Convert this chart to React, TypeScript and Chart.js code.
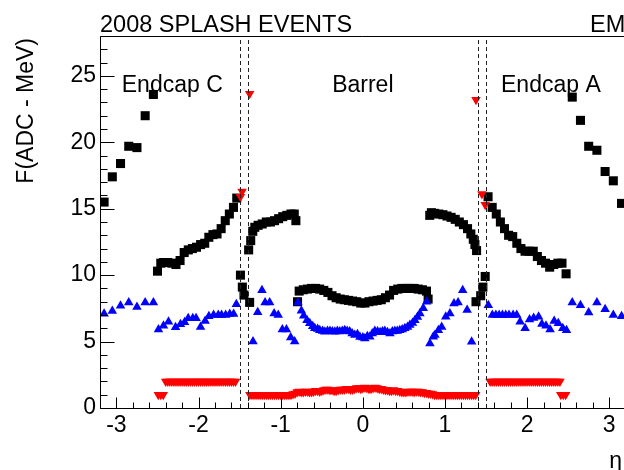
import React, { useEffect, useRef } from "react";
import { Chart, registerables } from "chart.js";

Chart.register(...registerables);

const FONT = '"Liberation Sans", Arial, Helvetica, sans-serif';

// ---- data (eta, F) ----
const blackEta = [
  -3.15, -3.05, -2.95, -2.85, -2.75, -2.65, -2.55,
  -2.5, -2.46, -2.425, -2.375, -2.325, -2.275, -2.225, -2.175, -2.125, -2.075, -2.025,
  -1.975, -1.925, -1.875, -1.825, -1.775, -1.725, -1.675, -1.625, -1.575, -1.535,
  -1.49, -1.467, -1.447, -1.378,
  -1.39, -1.365, -1.34, -1.315, -1.275, -1.225, -1.175, -1.125, -1.075, -1.025, -0.975, -0.925, -0.875, -0.835, -0.815,
  -0.795, -0.775, -0.725, -0.675, -0.625, -0.575, -0.525, -0.475, -0.425, -0.375, -0.325, -0.275, -0.225, -0.175, -0.125, -0.075, -0.025,
  0.025, 0.075, 0.125, 0.175, 0.225, 0.275, 0.325, 0.375, 0.425, 0.475, 0.525, 0.575, 0.625, 0.675, 0.725, 0.775, 0.795,
  0.815, 0.835, 0.875, 0.925, 0.975, 1.025, 1.075, 1.125, 1.175, 1.225, 1.275, 1.315, 1.345, 1.365, 1.385,
  1.378, 1.435, 1.462, 1.49,
  1.525, 1.575, 1.625, 1.675, 1.725, 1.775, 1.825, 1.875, 1.925, 1.975, 2.025, 2.075, 2.125, 2.175, 2.225, 2.275, 2.325, 2.375, 2.425, 2.475,
  2.55, 2.65, 2.75, 2.85, 2.95, 3.05, 3.15,
];
const blackVal = [
  15.5, 17.4, 18.4, 19.7, 19.6, 22.0, 23.6,
  10.3, 10.9, 10.95, 10.95, 10.9, 10.8, 11.1, 11.7, 11.9, 12.0, 12.1,
  12.3, 12.4, 12.85, 13.05, 13.1, 13.5, 14.1, 14.6, 15.1, 15.8,
  10.0, 9.1, 8.5, 7.95,
  11.9, 12.6, 13.3, 13.6, 13.75, 13.85, 14.0, 14.0, 14.1, 14.25, 14.4, 14.5, 14.6, 14.6, 14.1,
  8.0, 8.8, 8.9, 8.95, 9.0, 9.0, 8.95, 8.85, 8.7, 8.45, 8.3, 8.2, 8.15, 8.1, 8.05, 8.0, 7.9,
  7.9, 8.0, 8.05, 8.1, 8.15, 8.3, 8.5, 8.85, 8.95, 9.0, 9.0, 9.0, 9.0, 8.95, 8.9, 8.8, 8.2,
  14.5, 14.7, 14.65, 14.6, 14.55, 14.45, 14.35, 14.2, 14.0, 13.8, 13.5, 13.1, 12.7, 12.3, 11.85,
  8.0, 8.45, 9.1, 9.9,
  15.9, 15.1, 14.6, 14.0, 13.5, 13.0, 12.9, 12.4, 12.0, 11.8, 11.8, 11.8, 11.4, 11.1, 10.9, 10.6, 10.8, 10.9, 10.9, 10.1,
  23.4, 21.65, 19.7, 19.4, 17.8, 17.1, 15.4,
];

const blueEta = [
  -3.15, -3.05, -2.95, -2.85, -2.75, -2.65, -2.55,
  -2.488, -2.427, -2.366, -2.28, -2.22, -2.17, -2.126, -2.07, -2.03, -1.976, -1.92, -1.874, -1.817, -1.76, -1.72, -1.67, -1.62, -1.573, -1.54,
  -1.337, -1.28, -1.228, -1.19, -1.134, -1.08, -1.03, -0.98, -0.93, -0.878, -0.83,
  -0.79, -0.748, -0.72, -0.68, -0.646, -0.61, -0.585, -0.55, -0.524, -0.49, -0.463, -0.43, -0.4, -0.37, -0.34, -0.31, -0.28, -0.25, -0.22, -0.19, -0.16, -0.13, -0.098, -0.065, -0.035,
  0.0, 0.024, 0.055, 0.085, 0.115, 0.146, 0.18, 0.21, 0.24, 0.268, 0.3, 0.33, 0.36, 0.39, 0.42, 0.45, 0.48, 0.512, 0.545, 0.573, 0.605, 0.634, 0.665, 0.695, 0.736, 0.777,
  0.817, 0.858, 0.878, 0.92, 0.96, 1.01, 1.06, 1.11, 1.16, 1.216, 1.27, 1.325,
  1.528, 1.577, 1.62, 1.66, 1.7, 1.74, 1.78, 1.83, 1.874, 1.915, 1.976, 2.03, 2.08, 2.14, 2.18, 2.23, 2.28, 2.33, 2.38, 2.435, 2.48,
  2.55, 2.65, 2.75, 2.85, 2.95, 3.05, 3.15,
];
const blueVal = [
  7.1, 7.3, 7.7, 7.95, 7.6, 7.95, 7.95,
  5.9, 6.2, 6.5, 6.07, 6.3, 6.45, 6.75, 6.75, 6.75, 6.1, 6.55, 6.9, 7.0, 7.0, 7.0, 7.0, 7.07, 7.07, 7.8,
  5.0, 7.2, 8.87, 7.95, 7.94, 7.12, 7.0, 5.9, 5.9, 5.3, 5.0,
  7.94, 7.32, 6.94, 6.6, 6.37, 6.15, 6.0, 5.95, 5.86, 5.8, 5.74, 5.8, 5.8, 5.75, 5.74, 5.8, 5.75, 5.8, 5.86, 5.8, 5.75, 5.6, 5.49, 5.55, 5.35,
  5.3, 5.24, 5.4, 5.36, 5.6, 5.79, 5.75, 5.7, 5.75, 5.79, 5.7, 5.6, 5.75, 5.8, 5.8, 5.86, 5.9, 6.0, 6.1, 6.24, 6.4, 6.6, 6.85, 7.12, 7.5, 8.0,
  4.86, 5.36, 5.5, 5.86, 6.1, 6.87, 7.12, 7.87, 7.94, 8.87, 7.37, 4.98,
  7.74, 7.0, 7.0, 7.0, 7.0, 7.0, 7.0, 7.0, 7.0, 6.5, 6.0, 6.67, 6.77, 6.87, 6.32, 6.2, 5.9, 6.54, 6.37, 6.0, 5.86,
  7.94, 7.74, 7.19, 7.94, 7.44, 7.0, 6.9,
];

// isolated red points near the cracks and endcap edges
const redOutlierEta = [-1.378, -1.47, -1.49, 1.378, 1.45, 1.49, -2.49, -2.46, -2.43, 2.41, 2.44, 2.47];
const redOutlierVal = [23.65, 16.3, 15.9, 23.2, 16.1, 15.3, 1.0, 1.0, 1.0, 1.0, 1.0, 1.0];

// endcap inner-wheel red band (Endcap C then Endcap A)
const redEndcapEta = [
  -2.4, -2.375, -2.35, -2.325, -2.3, -2.275, -2.25, -2.225, -2.2, -2.175, -2.15, -2.125, -2.1, -2.075, -2.05, -2.025,
  -2.0, -1.975, -1.95, -1.925, -1.9, -1.875, -1.85, -1.825, -1.8, -1.775, -1.75, -1.725, -1.7, -1.675, -1.65, -1.625, -1.6, -1.575, -1.55,
  1.55, 1.575, 1.6, 1.625, 1.65, 1.675, 1.7, 1.725, 1.75, 1.775, 1.8, 1.825, 1.85, 1.875, 1.9, 1.925,
  1.95, 1.975, 2.0, 2.025, 2.05, 2.075, 2.1, 2.125, 2.15, 2.175, 2.2, 2.225, 2.25, 2.275, 2.3, 2.325, 2.35, 2.375, 2.4,
];
const redEndcapVal = [
  2.0, 2.0, 2.0, 2.0, 2.0, 2.0, 2.0, 2.0, 2.0, 2.0, 2.0, 2.0, 2.0, 2.0, 2.0, 2.0,
  2.0, 2.0, 2.0, 2.0, 2.0, 2.0, 2.0, 2.0, 2.0, 2.0, 2.0, 2.0, 2.0, 2.0, 2.0, 2.0, 2.0, 2.0, 2.0,
  2.0, 2.0, 2.0, 2.0, 2.0, 2.0, 2.0, 2.0, 2.0, 2.0, 2.0, 2.0, 2.0, 2.0, 2.0, 2.0,
  2.0, 2.0, 2.0, 2.0, 2.0, 2.0, 2.0, 2.0, 2.0, 2.0, 2.0, 2.0, 2.0, 2.0, 2.0, 2.0, 2.0, 2.0, 2.0,
];

// barrel red band
const redBarrelEta = [
  -1.375, -1.35, -1.325, -1.3, -1.275, -1.25, -1.225, -1.2, -1.175, -1.15, -1.125, -1.1, -1.075, -1.05, -1.025, -1.0,
  -0.975, -0.95, -0.925, -0.9, -0.875, -0.85, -0.825, -0.8, -0.775, -0.75, -0.725, -0.7, -0.675, -0.65, -0.625, -0.6,
  -0.575, -0.55, -0.525, -0.5, -0.475, -0.45, -0.425, -0.4, -0.375, -0.35, -0.325, -0.3, -0.275, -0.25, -0.225, -0.2,
  -0.175, -0.15, -0.125, -0.1, -0.075, -0.05, -0.025, 0.0, 0.025, 0.05, 0.075, 0.1, 0.125, 0.15, 0.175, 0.2,
  0.225, 0.25, 0.275, 0.3, 0.325, 0.35, 0.375, 0.4, 0.425, 0.45, 0.475, 0.5, 0.525, 0.55, 0.575, 0.6,
  0.625, 0.65, 0.675, 0.7, 0.725, 0.75, 0.775, 0.8, 0.825, 0.85, 0.875, 0.9, 0.925, 0.95, 0.975, 1.0,
  1.025, 1.05, 1.075, 1.1, 1.125, 1.15, 1.175, 1.2, 1.225, 1.25, 1.275, 1.3, 1.325, 1.35, 1.375,
];
const redBarrelVal = [
  1.0, 1.0, 1.0, 1.0, 1.0, 1.0, 1.0, 1.0, 1.0, 1.0, 1.0, 1.0, 1.0, 1.0, 1.0, 1.0,
  1.0, 1.0, 1.0, 1.0, 1.0, 1.05, 1.1, 1.2, 1.25, 1.2, 1.2, 1.25, 1.25, 1.2, 1.2, 1.25,
  1.3, 1.3, 1.25, 1.3, 1.35, 1.4, 1.4, 1.35, 1.35, 1.3, 1.3, 1.35, 1.4, 1.4, 1.4, 1.45,
  1.45, 1.4, 1.4, 1.45, 1.5, 1.5, 1.45, 1.5, 1.55, 1.5, 1.45, 1.45, 1.5, 1.55, 1.5, 1.45,
  1.45, 1.4, 1.35, 1.35, 1.3, 1.3, 1.35, 1.3, 1.3, 1.25, 1.2, 1.2, 1.2, 1.25, 1.25, 1.25,
  1.2, 1.25, 1.25, 1.2, 1.2, 1.15, 1.15, 1.1, 1.1, 1.05, 1.0, 1.0, 1.0, 1.0, 1.0, 1.0,
  1.0, 1.0, 1.0, 1.0, 1.0, 1.0, 1.0, 1.0, 1.0, 1.0, 1.0, 1.0, 1.0, 1.0, 1.0,
];

// ---- axes / annotations ----
const X_MIN = -3.2;
const X_MAX = 3.18;
const Y_MIN = 0;
const Y_MAX = 28;
const crackLines = [-1.5, -1.4, 1.4, 1.5];
const regionLabels = ["Endcap C", "Barrel", "Endcap A"];
const regionCenters = [-2.32, 0, 2.29];
const titleText = "2008 SPLASH EVENTS";
const cornerText = "EM";
const yTitle = "F(ADC - MeV)";
const xTitle = "η";

const toPoints = (xs: number[], ys: number[]) => xs.map((x, i) => ({ x, y: ys[i] }));

const overlayPlugin = {
  id: "rootOverlay",
  afterDatasetsDraw(chart: any) {
    const { ctx, chartArea, scales } = chart;
    const { left, right, top, bottom } = chartArea;
    const xs = scales.x;
    const ys = scales.y;
    ctx.save();
    // dashed crack lines
    ctx.strokeStyle = "#222";
    ctx.lineWidth = 1;
    ctx.setLineDash([4, 3]);
    crackLines.forEach((v) => {
      const px = Math.round(xs.getPixelForValue(v)) + 0.5;
      ctx.beginPath();
      ctx.moveTo(px, bottom);
      ctx.lineTo(px, top);
      ctx.stroke();
    });
    ctx.setLineDash([]);
    // frame
    ctx.strokeStyle = "#000";
    const L = Math.round(left) + 0.5;
    const B = Math.round(bottom) + 0.5;
    const T = Math.round(top) + 0.5;
    ctx.beginPath();
    ctx.moveTo(L, T);
    ctx.lineTo(L, B);
    ctx.lineTo(right, B);
    ctx.moveTo(L, T);
    ctx.lineTo(right, T);
    ctx.stroke();
    // x ticks (inward)
    ctx.beginPath();
    for (let k = -16; k <= 16; k++) {
      const v = k / 5;
      if (v < X_MIN || v > X_MAX) continue;
      const px = Math.round(xs.getPixelForValue(v)) + 0.5;
      const len = k % 5 === 0 ? 11 : 6;
      ctx.moveTo(px, B);
      ctx.lineTo(px, B - len);
    }
    // y ticks (inward)
    for (let k = Y_MIN; k <= Y_MAX; k++) {
      const py = Math.round(ys.getPixelForValue(k)) + 0.5;
      const len = k % 5 === 0 ? 14 : 7;
      ctx.moveTo(L, py);
      ctx.lineTo(L + len, py);
    }
    ctx.stroke();
    // texts
    ctx.fillStyle = "#000";
    ctx.font = `23.5px ${FONT}`;
    ctx.textBaseline = "alphabetic";
    ctx.textAlign = "left";
    ctx.fillText(titleText, 100, 32);
    ctx.fillText(cornerText, 590, 32);
    ctx.font = `23px ${FONT}`;
    ctx.textAlign = "center";
    regionLabels.forEach((t, i) => {
      ctx.fillText(t, xs.getPixelForValue(regionCenters[i]), 92);
    });
    ctx.textAlign = "right";
    ctx.fillText(xTitle, 622, 468);
    ctx.save();
    ctx.translate(33, 38);
    ctx.rotate(-Math.PI / 2);
    ctx.textAlign = "right";
    ctx.fillText(yTitle, 0, 0);
    ctx.restore();
    ctx.restore();
  },
};

export default function App() {
  const ref = useRef<HTMLCanvasElement>(null);
  useEffect(() => {
    if (!ref.current) return;
    const common = {
      showLine: false,
      pointRadius: 5.5,
      pointHoverRadius: 5.5,
      pointBorderWidth: 0,
    };
    const redStyle = {
      ...common,
      pointStyle: "triangle",
      pointRotation: 180,
      backgroundColor: "#ff0000",
      borderColor: "#ff0000",
      pointBackgroundColor: "#ff0000",
      pointBorderColor: "#ff0000",
    };
    const chart = new Chart(ref.current, {
      type: "scatter",
      data: {
        datasets: [
          { ...redStyle, label: "red outliers", data: toPoints(redOutlierEta, redOutlierVal) },
          { ...redStyle, label: "red endcap", data: toPoints(redEndcapEta, redEndcapVal) },
          { ...redStyle, label: "red barrel", data: toPoints(redBarrelEta, redBarrelVal) },
          {
            ...common,
            label: "blue",
            data: toPoints(blueEta, blueVal),
            pointStyle: "triangle",
            backgroundColor: "#0000ff",
            borderColor: "#0000ff",
            pointBackgroundColor: "#0000ff",
            pointBorderColor: "#0000ff",
          },
          {
            ...common,
            label: "black",
            data: toPoints(blackEta, blackVal),
            pointStyle: "rect",
            pointRadius: 6.4,
            pointHoverRadius: 6.4,
            backgroundColor: "#000000",
            borderColor: "#000000",
            pointBackgroundColor: "#000000",
            pointBorderColor: "#000000",
          },
        ],
      },
      options: {
        animation: false,
        responsive: false,
        events: [],
        layout: { autoPadding: false, padding: { top: 36, right: 0, left: 0, bottom: 0 } },
        plugins: { legend: { display: false }, tooltip: { enabled: false }, title: { display: false } },
        scales: {
          x: {
            type: "linear",
            min: X_MIN,
            max: X_MAX,
            grid: { display: false, drawTicks: false },
            border: { display: false },
            ticks: {
              stepSize: 1,
              includeBounds: false,
              padding: 4,
              color: "#000",
              maxRotation: 0,
              autoSkip: false,
              font: { family: FONT, size: 23 },
            },
            afterFit: (s: any) => {
              s.height = 62;
              s.paddingLeft = 0;
              s.paddingRight = 0;
            },
          },
          y: {
            type: "linear",
            min: Y_MIN,
            max: Y_MAX,
            grid: { display: false, drawTicks: false },
            border: { display: false },
            ticks: {
              stepSize: 5,
              includeBounds: false,
              padding: 4,
              color: "#000",
              font: { family: FONT, size: 23 },
            },
            afterFit: (s: any) => {
              s.width = 100;
              s.paddingTop = 0;
              s.paddingBottom = 0;
            },
          },
        },
      },
      plugins: [overlayPlugin],
    } as any);
    return () => chart.destroy();
  }, []);
  return (
    <div style={{ position: "absolute", left: 0, top: 0, width: 624, height: 470, background: "#fff" }}>
      <canvas ref={ref} width={624} height={470} style={{ display: "block" }} />
    </div>
  );
}
